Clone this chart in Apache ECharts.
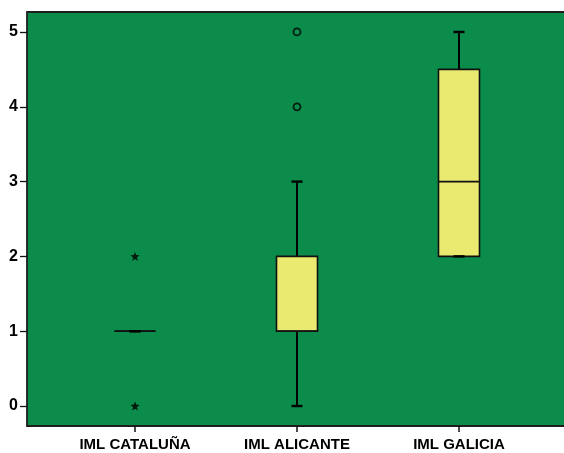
<!DOCTYPE html>
<html>
<head>
<meta charset="utf-8">
<script src="https://cdn.jsdelivr.net/npm/echarts@6/dist/echarts.min.js"></script>
<style>
  html, body { margin: 0; padding: 0; background: #ffffff; overflow: hidden; }
  #chart { width: 564px; height: 453px; }
</style>
</head>
<body>
<div id="chart"></div>
<script>
// Groups shown along the horizontal axis
const categories = ['IML CATALUÑA', 'IML ALICANTE', 'IML GALICIA'];
// Five-number summaries per group: [min, Q1, median, Q3, max]
const boxStats = [
  [1, 1, 1, 1, 1],
  [0, 1, 1, 2, 3],
  [2, 2, 3, 4.5, 5]
];
// Extreme values (drawn as stars): [group index, value]
const extremes = [[0, 0], [0, 2]];
// Mild outliers (drawn as circles): [group index, value]
const outliers = [[1, 4], [1, 5]];
// Value-axis tick labels
const yTicks = [0, 1, 2, 3, 4, 5];

const yMin = -0.267, yMax = 5.267;
const green = '#0b8c4b';
const yellow = '#eaea70';
const font = '"Liberation Sans", Arial, Helvetica, sans-serif';

const chart = echarts.init(document.getElementById('chart'));

function renderBox(params, api) {
  const x = api.value(0);
  const pMin = api.coord([x, api.value(1)]);
  const pQ1 = api.coord([x, api.value(2)]);
  const pMed = api.coord([x, api.value(3)]);
  const pQ3 = api.coord([x, api.value(4)]);
  const pMax = api.coord([x, api.value(5)]);
  const cx = pMed[0];
  const half = 20.5;
  const cap = 5.5;
  const lineStyle = { stroke: '#000', lineWidth: 2, fill: null };
  return {
    type: 'group',
    children: [
      { type: 'line', shape: { x1: cx, y1: pMax[1], x2: cx, y2: pQ3[1] }, style: lineStyle },
      { type: 'line', shape: { x1: cx, y1: pQ1[1], x2: cx, y2: pMin[1] }, style: lineStyle },
      {
        type: 'rect',
        shape: { x: cx - half, y: pQ3[1], width: half * 2, height: pQ1[1] - pQ3[1] },
        style: { fill: yellow, stroke: '#111', lineWidth: 1.6 }
      },
      { type: 'line', shape: { x1: cx - half, y1: pMed[1], x2: cx + half, y2: pMed[1] }, style: { stroke: '#111', lineWidth: 1.8 } },
      { type: 'line', shape: { x1: cx - cap, y1: pMax[1], x2: cx + cap, y2: pMax[1] }, style: { stroke: '#000', lineWidth: 2.4 } },
      { type: 'line', shape: { x1: cx - cap, y1: pMin[1], x2: cx + cap, y2: pMin[1] }, style: { stroke: '#000', lineWidth: 2.4 } }
    ]
  };
}

const starPath = 'path://M50,0 L63,32 L98,35 L71,58 L80,93 L50,74 L20,93 L29,58 L2,35 L37,32 Z';

chart.setOption({
  animation: false,
  backgroundColor: '#ffffff',
  grid: [
    {
      left: 27, top: 12, width: 550, height: 414,
      outerBoundsMode: 'none', containLabel: false,
      show: true, backgroundColor: green, borderColor: '#1e1e1e', borderWidth: 1.8
    },
    { left: 54, top: 12, width: 486, height: 414, outerBoundsMode: 'none', containLabel: false }
  ],
  xAxis: [
    { gridIndex: 0, type: 'value', min: 0, max: 1, show: false },
    {
      gridIndex: 1,
      type: 'category',
      data: categories,
      axisLine: { show: false, onZero: false },
      axisTick: { show: true, alignWithLabel: true, length: 6, lineStyle: { color: '#111', width: 1.5 } },
      axisLabel: { margin: 11, color: '#000', fontFamily: font, fontWeight: 'bold', fontSize: 15 },
      splitLine: { show: false }
    }
  ],
  yAxis: [
    {
      gridIndex: 0,
      type: 'value',
      min: yMin,
      max: yMax,
      axisLine: { show: false },
      axisTick: { show: true, length: 7, customValues: yTicks, lineStyle: { color: '#111', width: 1.3 } },
      axisLabel: { customValues: yTicks, margin: 9, color: '#000', fontFamily: font, fontWeight: 'bold', fontSize: 16 },
      splitLine: { show: false }
    },
    { gridIndex: 1, type: 'value', min: yMin, max: yMax, show: false, splitLine: { show: false } }
  ],
  series: [
    {
      type: 'custom',
      xAxisIndex: 1,
      yAxisIndex: 1,
      renderItem: renderBox,
      encode: { x: 0, y: [1, 2, 3, 4, 5] },
      data: boxStats.map((s, i) => [i].concat(s)),
      z: 2
    },
    {
      type: 'scatter',
      xAxisIndex: 1,
      yAxisIndex: 1,
      symbol: starPath,
      symbolSize: 9,
      itemStyle: { color: '#000' },
      data: extremes,
      z: 3
    },
    {
      type: 'scatter',
      xAxisIndex: 1,
      yAxisIndex: 1,
      symbol: 'circle',
      symbolSize: 7,
      itemStyle: { color: green, borderColor: '#000', borderWidth: 1.8 },
      data: outliers,
      z: 3
    }
  ]
});
</script>
</body>
</html>
